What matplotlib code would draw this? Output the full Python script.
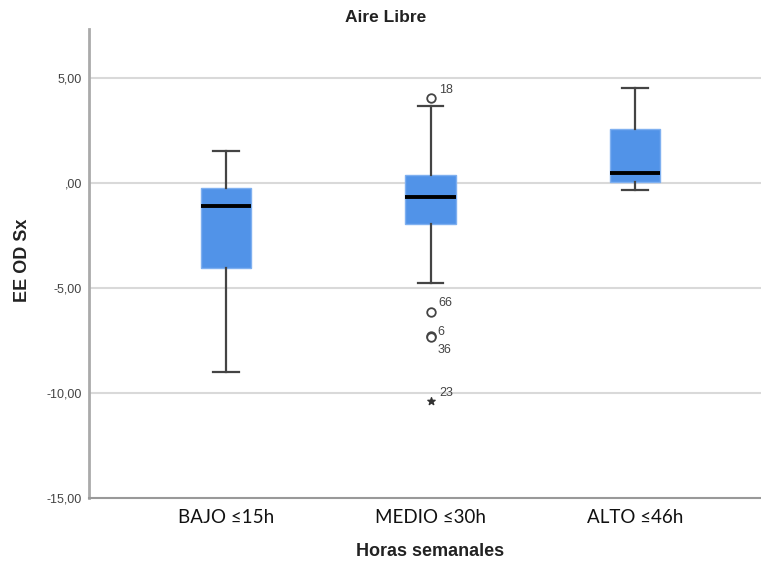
import matplotlib
matplotlib.use("Agg")
import matplotlib.pyplot as plt
import matplotlib.transforms as mtransforms

categories = ["BAJO \u226415h", "MEDIO \u226430h", "ALTO \u226446h"]
whisker_low = [-9.0, -4.75, -0.33]
q1 = [-4.07, -1.95, 0.04]
median = [-1.12, -0.67, 0.47]
q3 = [-0.24, 0.38, 2.57]
whisker_high = [1.52, 3.67, 4.53]

# outliers (circles) for MEDIO group
outlier_group = [2, 2, 2, 2]
outlier_values = [4.05, -6.13, -7.30, -7.34]
outlier_labels = ["18", "66", "6", "36"]
# extreme value (star)
extreme_group = [2]
extreme_values = [-10.38]
extreme_labels = ["23"]

yticks = [5, 0, -5, -10, -15]
yticklabels = ["5,00", ",00", "-5,00", "-10,00", "-15,00"]

fig = plt.figure(figsize=(7.61, 5.64), dpi=100)
ax = fig.add_axes([89/761, 66/564, 1 - 89/761, (498-29)/564])

stats = []
for i in range(len(categories)):
    stats.append(dict(whislo=whisker_low[i], q1=q1[i], med=median[i],
                      q3=q3[i], whishi=whisker_high[i], fliers=[]))
positions = [1, 2, 3]
ax.bxp(stats, positions=positions, widths=0.245, patch_artist=True,
       showfliers=False, showcaps=True,
       boxprops=dict(facecolor="#5193E8", edgecolor="#7FB0F0", linewidth=1.0),
       medianprops=dict(color="black", linewidth=2.8, solid_capstyle="butt"),
       whiskerprops=dict(color="#444444", linewidth=1.6),
       capprops=dict(color="#444444", linewidth=1.6),
       capwidths=0.125, zorder=3)

ax.scatter(outlier_group, outlier_values, s=38, facecolors="white",
           edgecolors="#444444", linewidths=1.3, zorder=4)
ax.scatter(extreme_group, extreme_values, s=30, marker="*", color="#333333",
           zorder=4)

label_offsets = {"18": (6, 6), "66": (6, 6), "6": (5, 3), "36": (5, -9), "23": (6, 6)}
for g, v, lab in zip(outlier_group + extreme_group,
                     outlier_values + extreme_values,
                     outlier_labels + extreme_labels):
    dx, dy = label_offsets[lab]
    ax.annotate(lab, (g, v), xytext=(dx, dy), textcoords="offset points",
                fontsize=9, color="#444444", family="Liberation Sans",
                ha="left", va="center")

ax.set_xlim(0.33, 3.616)
ax.set_ylim(-15, 7.33)
ax.set_yticks(yticks)
ax.set_yticklabels(yticklabels, family="Liberation Sans", fontsize=9,
                   color="#444444")
ax.set_xticks(positions)
ax.set_xticklabels(categories, family=["Lato", "DejaVu Sans"], fontsize=13.5,
                   color="#111111")
for lbl, off in zip(ax.get_xticklabels(), [-8, -8, 2]):
    lbl.set_transform(lbl.get_transform() +
                      mtransforms.ScaledTranslation(off/100, 0, fig.dpi_scale_trans))
ax.tick_params(axis="both", length=0)
ax.tick_params(axis="y", pad=5)
ax.tick_params(axis="x", pad=8)

for y in yticks[:-1]:
    ax.axhline(y, color="#d9d9d9", linewidth=1.5, zorder=1)

for s in ["top", "right"]:
    ax.spines[s].set_visible(False)
ax.spines["left"].set_color("#aaaaaa")
ax.spines["left"].set_linewidth(2)
ax.spines["bottom"].set_color("#999999")
ax.spines["bottom"].set_linewidth(1.5)

ax.set_ylabel("EE OD Sx", family="Liberation Sans", fontsize=13,
              fontweight="bold", color="#222222")
ax.yaxis.label.set_va("center")
ax.yaxis.set_label_coords(-0.099, 0.507)
fig.text(430/761, 1 - 551/564, "Horas semanales", family="Liberation Sans",
         fontsize=13, fontweight="bold", color="#222222", ha="center", va="center")
fig.text(386/761, 1 - 17/564, "Aire Libre", family="Liberation Sans",
         fontsize=12.5, fontweight="bold", color="#222222", ha="center", va="center")

fig.savefig("out.png", dpi=100)
